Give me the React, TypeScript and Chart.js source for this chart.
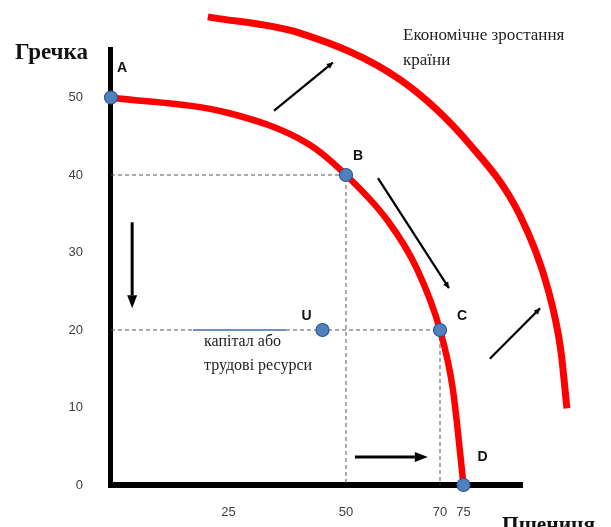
import React, { useEffect, useRef } from "react";
import { Chart, registerables } from "chart.js";

Chart.register(...registerables);

// Tick labels
const xTickValues = [25, 50, 70, 75];
const yTickValues = [0, 10, 20, 30, 40, 50];

// Axis extents (where the drawn axis lines end)
const xAxisEnd = 87.66;
const yAxisEnd = 56.52;

// Production possibility frontier
const ppfX = [0, 25, 42, 50, 59, 65, 70, 72.7, 75];
const ppfY = [50, 48, 44, 40, 34, 28, 20, 12.5, 0];

// Shifted frontier after economic growth
const growthX = [20.6, 40.2, 61.5, 76.4, 87.0, 93.0, 95.7, 97.0];
const growthY = [60.4, 58.3, 52.3, 43.9, 34.8, 25.2, 17.4, 9.9];

// Named points
const pointNames = ["A", "B", "C", "D", "U"];
const pointX = [0, 50, 70, 75, 45];
const pointY = [50, 40, 20, 0, 20];

// Arrows (data coordinates)
const arrowFromX = [34.7, 56.8, 80.6, 4.5, 51.9];
const arrowFromY = [48.3, 39.6, 16.3, 33.9, 3.6];
const arrowToX = [47.2, 71.9, 91.3, 4.5, 67.4];
const arrowToY = [54.5, 25.4, 22.8, 22.8, 3.6];

const yAxisTitle = "Гречка";
const xAxisTitle = "Пшениця";
const growthLabel = ["Економічне зростання", "країни"];
const resourceLabel = ["капітал або", "трудові ресурси"];

export default function App() {
  const ref = useRef<HTMLCanvasElement | null>(null);

  useEffect(() => {
    if (!ref.current) return;

    const labelOffsets: Record<string, [number, number]> = {
      A: [11, -29],
      B: [12, -19],
      C: [22, -14],
      D: [19, -28],
      U: [-16, -14],
    };

    const axisLines = {
      id: "axisLines",
      beforeDatasetsDraw(chart: any) {
        const ctx = chart.ctx as CanvasRenderingContext2D;
        const xs = chart.scales.x;
        const ys = chart.scales.y;
        const x0 = xs.getPixelForValue(0);
        const y0 = ys.getPixelForValue(0);
        ctx.save();
        ctx.strokeStyle = "#000";
        ctx.lineWidth = 5;
        ctx.beginPath();
        ctx.moveTo(x0 - 0.5, ys.getPixelForValue(yAxisEnd));
        ctx.lineTo(x0 - 0.5, y0 + 3);
        ctx.stroke();
        ctx.lineWidth = 6;
        ctx.beginPath();
        ctx.moveTo(x0 - 3, y0);
        ctx.lineTo(xs.getPixelForValue(xAxisEnd), y0);
        ctx.stroke();
        ctx.restore();
      },
    };

    const annotations = {
      id: "annotations",
      afterDatasetsDraw(chart: any) {
        const ctx = chart.ctx as CanvasRenderingContext2D;
        const xs = chart.scales.x;
        const ys = chart.scales.y;
        ctx.save();

        arrowFromX.forEach((_, i) => {
          const x1 = xs.getPixelForValue(arrowFromX[i]);
          const y1 = ys.getPixelForValue(arrowFromY[i]);
          const x2 = xs.getPixelForValue(arrowToX[i]);
          const y2 = ys.getPixelForValue(arrowToY[i]);
          const big = i >= 3;
          const headLen = big ? 13 : 6;
          const headW = big ? 5 : 3;
          ctx.strokeStyle = "#000";
          ctx.fillStyle = "#000";
          ctx.lineWidth = big ? 3 : 2.2;
          const ang = Math.atan2(y2 - y1, x2 - x1);
          const bx = x2 - Math.cos(ang) * headLen;
          const by = y2 - Math.sin(ang) * headLen;
          ctx.beginPath();
          ctx.moveTo(x1, y1);
          ctx.lineTo(big ? bx : x2, big ? by : y2);
          ctx.stroke();
          ctx.beginPath();
          ctx.moveTo(x2, y2);
          ctx.lineTo(bx + Math.sin(ang) * headW, by - Math.cos(ang) * headW);
          ctx.lineTo(bx - Math.sin(ang) * headW, by + Math.cos(ang) * headW);
          ctx.closePath();
          ctx.fill();
        });

        ctx.fillStyle = "#111";
        ctx.font = "bold 14px 'Liberation Sans', Arial, sans-serif";
        ctx.textAlign = "center";
        ctx.textBaseline = "middle";
        pointNames.forEach((n, i) => {
          const px = xs.getPixelForValue(pointX[i]);
          const py = ys.getPixelForValue(pointY[i]);
          const off = labelOffsets[n];
          ctx.fillText(n, px + off[0], py + off[1]);
        });

        ctx.textAlign = "left";
        ctx.textBaseline = "alphabetic";
        ctx.fillStyle = "#111";
        ctx.font = "bold 23px 'Liberation Serif', 'Times New Roman', serif";
        ctx.fillText(yAxisTitle, 15, 59, 73);
        ctx.fillText(xAxisTitle, 502, 532, 93);

        ctx.font = "17px 'Liberation Serif', 'Times New Roman', serif";
        ctx.fillStyle = "#222";
        ctx.fillText(growthLabel[0], 403, 40, 172);
        ctx.fillText(growthLabel[1], 403, 65, 60);

        const uy = ys.getPixelForValue(pointY[4]);
        ctx.strokeStyle = "#6f8fbf";
        ctx.lineWidth = 2;
        ctx.beginPath();
        ctx.moveTo(193, uy);
        ctx.lineTo(286, uy);
        ctx.stroke();
        ctx.font = "16px 'Liberation Serif', 'Times New Roman', serif";
        ctx.fillStyle = "#222";
        ctx.fillText(resourceLabel[0], 204, uy + 16, 82);
        ctx.fillText(resourceLabel[1], 204, uy + 40, 114);

        ctx.restore();
      },
    };

    const toPts = (xa: number[], ya: number[]) => xa.map((x, i) => ({ x, y: ya[i] }));

    const chart = new Chart(ref.current, {
      type: "line",
      data: {
        datasets: [
          {
            data: toPts(pointX, pointY),
            showLine: false,
            pointRadius: 6.5,
            pointBackgroundColor: "#4f81bd",
            pointBorderColor: "#2f5597",
            pointBorderWidth: 1.2,
            clip: false as any,
          },
          {
            data: toPts(ppfX, ppfY),
            borderColor: "#ff0000",
            borderWidth: 6.5,
            pointRadius: 0,
            cubicInterpolationMode: "monotone",
            clip: false as any,
          },
          {
            data: toPts(growthX, growthY),
            borderColor: "#ff0000",
            borderWidth: 7,
            pointRadius: 0,
            cubicInterpolationMode: "monotone",
            clip: false as any,
          },
          {
            data: [
              { x: 0, y: pointY[1] },
              { x: pointX[1], y: pointY[1] },
              { x: pointX[1], y: 0 },
            ],
            borderColor: "#555",
            borderWidth: 1,
            borderDash: [4, 3],
            pointRadius: 0,
            tension: 0,
          },
          {
            data: [
              { x: 0, y: pointY[2] },
              { x: pointX[2], y: pointY[2] },
              { x: pointX[2], y: 0 },
            ],
            borderColor: "#555",
            borderWidth: 1,
            borderDash: [4, 3],
            pointRadius: 0,
            tension: 0,
          },
        ],
      },
      options: {
        responsive: false,
        animation: false,
        events: [],
        layout: { autoPadding: false, padding: { left: 0, top: 0, right: 0, bottom: 0 } },
        plugins: {
          legend: { display: false },
          tooltip: { enabled: false },
          title: { display: false },
        },
        scales: {
          x: {
            type: "linear",
            min: 0,
            max: 106.38,
            grid: { display: false, drawTicks: false },
            border: { display: false },
            afterBuildTicks: (s: any) => {
              s.ticks = xTickValues.map((v) => ({ value: v }));
            },
            afterFit: (s: any) => {
              s.height = 42;
              s.paddingLeft = 0;
              s.paddingRight = 0;
              s.paddingTop = 0;
              s.paddingBottom = 0;
            },
            ticks: {
              padding: 20,
              color: "#404040",
              font: { family: "'Liberation Sans', Arial, sans-serif", size: 13 },
              maxRotation: 0,
              autoSkip: false,
            },
          },
          y: {
            type: "linear",
            min: 0,
            max: 62.58,
            grid: { display: false, drawTicks: false },
            border: { display: false },
            afterBuildTicks: (s: any) => {
              s.ticks = yTickValues.map((v) => ({ value: v }));
            },
            afterFit: (s: any) => {
              s.width = 111;
              s.paddingLeft = 0;
              s.paddingRight = 0;
              s.paddingTop = 0;
              s.paddingBottom = 0;
            },
            ticks: {
              padding: 28,
              color: "#404040",
              font: { family: "'Liberation Sans', Arial, sans-serif", size: 13 },
              autoSkip: false,
            },
          },
        },
      },
      plugins: [axisLines, annotations],
    });

    return () => chart.destroy();
  }, []);

  return (
    <div style={{ position: "fixed", left: 0, top: 0, width: 611, height: 527, background: "#fff" }}>
      <canvas ref={ref} width={611} height={527} style={{ display: "block" }} />
    </div>
  );
}
